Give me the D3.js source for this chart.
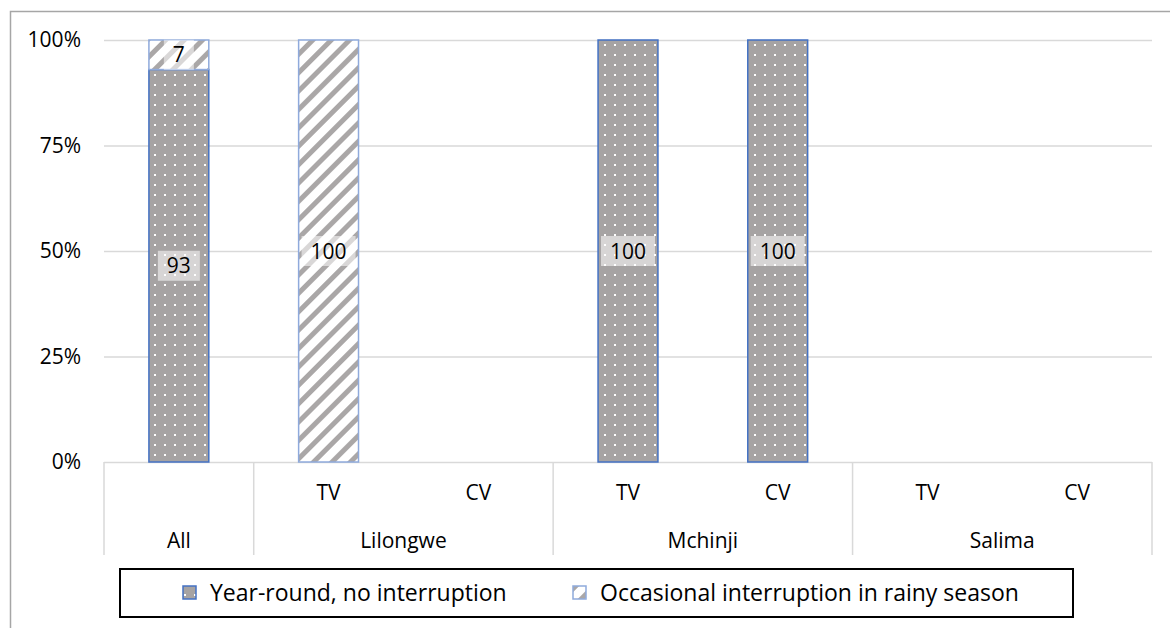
<!DOCTYPE html>
<html><head><meta charset="utf-8">
<script src="https://cdn.jsdelivr.net/npm/d3@7"></script>
<style>
html,body{margin:0;padding:0;background:#fff;}
svg{display:block;font-family:"Open Sans",Lato,sans-serif;}
</style></head>
<body>
<svg id="chart" width="1170" height="628"></svg>
<script>
const categories = ["All","Lilongwe TV","Lilongwe CV","Mchinji TV","Mchinji CV","Salima TV","Salima CV"];
const subLabels = ["","TV","CV","TV","CV","TV","CV"];
const groups = [
  {name:"All", from:0, to:0},
  {name:"Lilongwe", from:1, to:2},
  {name:"Mchinji", from:3, to:4},
  {name:"Salima", from:5, to:6}
];
const seriesNames = ["Year-round, no interruption","Occasional interruption in rainy season"];
const yearRound = [93, 0, 0, 100, 100, 0, 0];
const occasional = [7, 100, 0, 0, 0, 0, 0];
const yTicks = [0, 25, 50, 75, 100];

const svg = d3.select("#chart");
const W = 1170, H = 628;
const m = {left:104, right:1152, top:40, bottom:462};

// outer border (partially visible)
svg.append("path").attr("d", `M10.5,${H} L10.5,11.5 L${W},11.5`)
  .attr("fill","none").attr("stroke","#a6a6a6").attr("stroke-width",1.5);

const defs = svg.append("defs");
const dots = defs.append("pattern").attr("id","dots").attr("patternUnits","userSpaceOnUse")
  .attr("width",10).attr("height",10);
dots.append("rect").attr("width",10).attr("height",10).attr("fill","#a6a3a3");
dots.append("rect").attr("x",4).attr("y",4).attr("width",2).attr("height",2).attr("fill","#fff");
const hatch = defs.append("pattern").attr("id","hatch").attr("patternUnits","userSpaceOnUse")
  .attr("width",13).attr("height",13).attr("patternTransform","rotate(45)");
hatch.append("rect").attr("width",13).attr("height",13).attr("fill","#fff");
hatch.append("rect").attr("x",0).attr("y",0).attr("width",5).attr("height",13).attr("fill","#aaa7a7");

const x = d3.scaleBand().domain(categories).range([m.left, m.right]).paddingInner(0.6).paddingOuter(0.3);
const y = d3.scaleLinear().domain([0,100]).range([m.bottom, m.top]);
const step = x.step(), gap = step - x.bandwidth();

// gridlines
svg.append("g").selectAll("line").data(yTicks).join("line")
  .attr("x1", m.left).attr("x2", m.right)
  .attr("y1", d=>y(d)+0.5).attr("y2", d=>y(d)+0.5)
  .attr("stroke","#d9d9d9").attr("stroke-width",1.5);

// y tick labels
svg.append("g").selectAll("text").data(yTicks).join("text")
  .attr("x", 81).attr("y", d=>y(d)).attr("dy","0.35em")
  .attr("text-anchor","end").attr("font-size",21).attr("fill","#000")
  .text(d=>d+"%");

// stack
const rows = categories.map((c,i)=>({cat:c, a:yearRound[i], b:occasional[i]}));
const stack = d3.stack().keys(["a","b"])(rows);
const fills = ["url(#dots)","url(#hatch)"];
const strokes = ["#4472c4","#8faadc"];

stack.forEach((layer, li)=>{
  svg.append("g").selectAll("rect").data(layer.filter(d=>d[1]-d[0]>0)).join("rect")
    .attr("x", d=>x(d.data.cat)).attr("width", x.bandwidth())
    .attr("y", d=>y(d[1])).attr("height", d=>y(d[0])-y(d[1]))
    .attr("fill", fills[li]).attr("stroke", strokes[li]).attr("stroke-width",1.5);
});

// data labels
stack.forEach((layer, li)=>{
  const g = svg.append("g");
  layer.filter(d=>d[1]-d[0]>0).forEach(d=>{
    const cx = x(d.data.cat) + x.bandwidth()/2;
    const cy = (y(d[0])+y(d[1]))/2;
    const t = g.append("text").attr("x",cx).attr("y",cy).attr("dy","0.36em")
      .attr("text-anchor","middle").attr("font-size",21).attr("fill","#000")
      .text(d[1]-d[0]);
    const bb = t.node().getBBox();
    g.insert("rect", "text").attr("x", cx - (bb.width+18)/2).attr("y", cy-15)
      .attr("width", bb.width+18).attr("height",30)
      .attr("fill","#fff").attr("fill-opacity",0.55);
  });
});

// category axis
const axisBottom = 555;
const ax = svg.append("g");
const boundaries = [];
groups.forEach(g=>{
  boundaries.push(x(categories[g.from]) - gap/2);
});
boundaries.push(x(categories[categories.length-1]) + x.bandwidth() + gap/2);
ax.selectAll("line").data(boundaries).join("line")
  .attr("x1", d=>d).attr("x2", d=>d).attr("y1", m.bottom).attr("y2", axisBottom)
  .attr("stroke","#d9d9d9").attr("stroke-width",1.5);
ax.selectAll("text.sub").data(categories).join("text").attr("class","sub")
  .attr("x", d=>x(d)+x.bandwidth()/2).attr("y", 493).attr("dy","0.35em")
  .attr("text-anchor","middle").attr("font-size",21)
  .text((d,i)=>subLabels[i]);
ax.selectAll("text.grp").data(groups).join("text").attr("class","grp")
  .attr("x", g=>(x(categories[g.from]) + x(categories[g.to]) + x.bandwidth())/2)
  .attr("y", 541).attr("dy","0.35em")
  .attr("text-anchor","middle").attr("font-size",21)
  .text(g=>g.name);

// legend
const lg = svg.append("g");
lg.append("rect").attr("x",120).attr("y",569).attr("width",953).attr("height",48)
  .attr("fill","#fff").attr("stroke","#000").attr("stroke-width",2);
const legendX = [183, 573];
seriesNames.forEach((s,i)=>{
  lg.append("rect").attr("x",legendX[i]).attr("y",586).attr("width",13).attr("height",13)
    .attr("fill",fills[i]).attr("stroke",strokes[i]).attr("stroke-width",1.5);
  lg.append("text").attr("x",legendX[i]+27).attr("y",593).attr("dy","0.35em")
    .attr("font-size",23).text(s);
});
</script>
</body></html>
